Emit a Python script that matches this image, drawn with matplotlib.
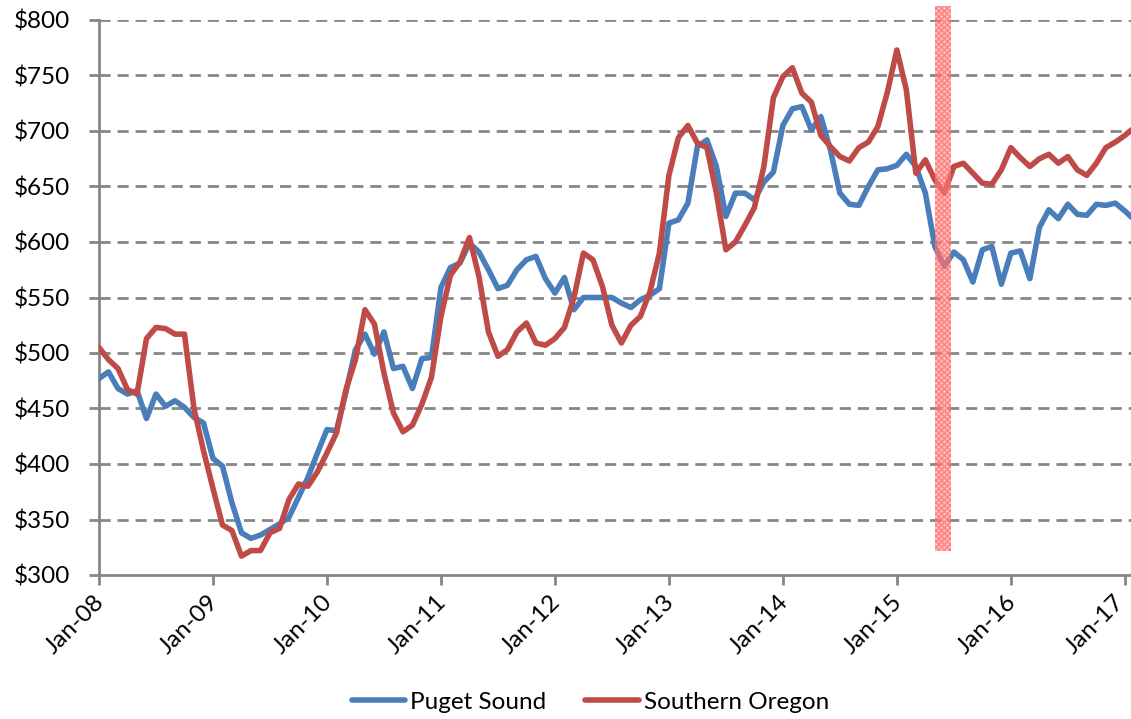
import numpy as np
import matplotlib.pyplot as plt
from matplotlib.patches import Rectangle
from matplotlib.transforms import ScaledTranslation

plt.rcParams["font.family"] = ["Lato", "DejaVu Sans"]

# monthly values, Jan-08 .. Feb-17
puget_sound = [
    477, 483, 468, 463, 466, 441, 463, 452, 457, 451, 442, 437,
    405, 398, 365, 338, 333, 336, 341, 346, 352, 370, 388, 410,
    431, 430, 465, 503, 517, 499, 519, 486, 488, 468, 495, 496,
    559, 577, 581, 599, 591, 575, 558, 561, 575, 584, 587, 567,
    554, 568, 539, 550, 550, 550, 550, 545, 541, 548, 552, 558,
    617, 620, 635, 686, 692, 668, 623, 644, 644, 638, 654, 663,
    705, 720, 722, 701, 713, 683, 644, 634, 633, 650, 665, 666,
    669, 679, 668, 644, 596, 578, 591, 584, 564, 593, 596, 562,
    590, 592, 567, 613, 629, 621, 634, 625, 624, 634, 633, 635,
    628, 620,
]
southern_oregon = [
    505, 494, 486, 467, 463, 513, 523, 522, 517, 517, 450, 412,
    378, 345, 340, 317, 322, 322, 338, 342, 368, 382, 380, 393,
    410, 428, 467, 494, 539, 526, 482, 446, 429, 435, 454, 478,
    533, 570, 582, 604, 569, 519, 497, 503, 519, 527, 509, 507,
    513, 523, 550, 590, 584, 560, 525, 509, 525, 533, 555, 590,
    660, 694, 705, 689, 685, 644, 593, 600, 615, 631, 668, 730,
    749, 757, 734, 726, 696, 686, 677, 673, 685, 690, 704, 735,
    773, 737, 662, 674, 656, 644, 668, 671, 662, 653, 652, 665,
    685, 676, 668, 675, 679, 671, 677, 665, 660, 671, 685, 690,
    696, 703,
]
tick_labels = ["Jan-08", "Jan-09", "Jan-10", "Jan-11", "Jan-12",
               "Jan-13", "Jan-14", "Jan-15", "Jan-16", "Jan-17"]
y_ticks = [300, 350, 400, 450, 500, 550, 600, 650, 700, 750, 800]

# highlighted period (month index) and its vertical extent
band_months = (88.0, 89.7)
band_values = (322, 813)

months = np.arange(len(puget_sound))

fig = plt.figure(figsize=(11.31, 7.19), dpi=100)
ax = fig.add_axes([99 / 1131, 144 / 719, 1032 / 1131, 555 / 719])

for y in y_ticks[1:]:
    ax.axhline(y, color="#868686", lw=2, ls=(0, (4, 2.5)), zorder=1)

ax.plot(months, puget_sound, color="#4A7EBB", lw=4, label="Puget Sound",
        solid_joinstyle="round", solid_capstyle="round", zorder=3)
ax.plot(months, southern_oregon, color="#BE4B48", lw=4, label="Southern Oregon",
        solid_joinstyle="round", solid_capstyle="round", zorder=3)

band = Rectangle((band_months[0], band_values[0]),
                 band_months[1] - band_months[0], band_values[1] - band_values[0],
                 facecolor=(1, 0.55, 0.55, 0.55), edgecolor=(1, 0.35, 0.35, 0.6),
                 hatch="xxxxxx", lw=0, clip_on=False, zorder=4)
ax.add_patch(band)

ax.set_xlim(0, 108.65)
ax.set_ylim(300, 800)
ax.set_xticks(np.arange(0, 12 * len(tick_labels), 12))
ax.set_xticklabels(tick_labels, rotation=45, ha="right", va="center",
                   rotation_mode="anchor")
ax.set_yticks(y_ticks)
ax.set_yticklabels([f"${v}" for v in y_ticks])

for s in ["top", "right"]:
    ax.spines[s].set_visible(False)
for s in ["left", "bottom"]:
    ax.spines[s].set_color("#868686")
    ax.spines[s].set_linewidth(2)
ax.tick_params(axis="both", colors="#868686", width=2, length=7,
               labelsize=17.5, labelcolor="black")
ax.tick_params(axis="y", pad=14)
ax.tick_params(axis="x", pad=10)

xlabels = ax.get_xticklabels()
for i, lbl in enumerate(xlabels):
    dx = 0.02 if i < len(xlabels) - 1 else -0.04
    lbl.set_transform(lbl.get_transform() + ScaledTranslation(dx, 0, fig.dpi_scale_trans))

fig.legend(loc="center", bbox_to_anchor=(0.522, 17 / 719), ncol=2, frameon=False,
           fontsize=17.5, handlelength=2.2, columnspacing=1.6, handletextpad=0.2)

plt.savefig("out.png", dpi=100)
plt.close()
